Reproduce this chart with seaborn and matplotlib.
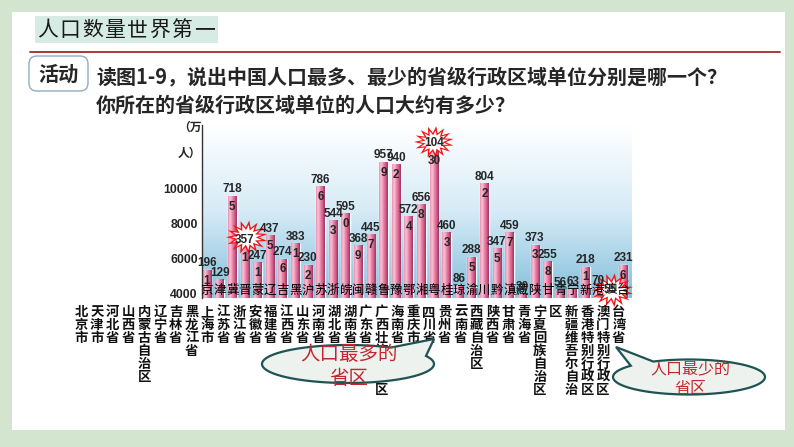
import numpy as np
import pandas as pd
import matplotlib
matplotlib.use("Agg")
import matplotlib.pyplot as plt
import seaborn as sns
from matplotlib.patches import Rectangle, FancyBboxPatch, Polygon
from matplotlib.lines import Line2D
from matplotlib.colors import LinearSegmentedColormap

# Datos (poblacion en 10 mil personas)
abrev = ["京", "津", "冀", "晋", "蒙", "辽", "吉", "黑", "沪", "苏", "浙", "皖",
         "闽", "赣", "鲁", "豫", "鄂", "湘", "粤", "桂", "琼", "渝", "川", "黔",
         "滇", "藏", "陕", "甘", "青", "宁", "新", "港", "澳", "台"]
poblacion = [1961, 1294, 7185, 3571, 2471, 4375, 2746, 3831, 2302, 7866, 5443, 5950,
             3689, 4457, 9579, 9402, 5724, 6568, 10430, 4603, 867, 2885, 8042, 3475,
             4597, 300, 3733, 2558, 563, 630, 2181, 708, 55, 2316]
# columnas de nombres tal como aparecen (el "区" de Xinjiang salta de columna)
nombres = ["北京市", "天津市", "河北省", "山西省", "内蒙古自治区", "辽宁省", "吉林省",
           "黑龙江省", "上海市", "江苏省", "浙江省", "安徽省", "福建省", "江西省",
           "山东省", "河南省", "湖北省", "湖南省", "广东省", "广西壮族自治区", "海南省",
           "重庆市", "四川省", "贵州省", "云南省", "西藏自治区", "陕西省", "甘肃省",
           "青海省", "宁夏回族自治区", "区", "新疆维吾尔自治", "香港特别行政区",
           "澳门特别行政区", "台湾省"]
ticks_y = [4000, 6000, 8000, 10000]
resaltados = ["晋", "粤", "澳"]

sns.set_theme(style="white")
plt.rcParams["font.family"] = ["Noto Sans CJK SC", "DejaVu Sans"]

W, H = 794, 447
fig = plt.figure(figsize=(W / 100, H / 100), dpi=100, facecolor="#d3e5cf")
inch = fig.dpi_scale_trans


def pt(x, y):
    # pixel (y hacia abajo) -> pulgadas
    return (x / 100, (H - y) / 100)


def ftext(x, y, s, **kw):
    return fig.text(x / W, 1 - y / H, s, **kw)


# panel blanco
fig.patches.append(Rectangle(pt(12, 430), 7.73, 4.18, transform=inch,
                             facecolor="white", edgecolor="none", zorder=-1))

# titulo
fig.patches.append(Rectangle(pt(35, 43), 1.83, 0.27, transform=inch,
                             facecolor="#d5ebe4", edgecolor="none", zorder=1))
for j, ch in enumerate("人口数量世界第一"):
    ftext(48 + 22.3 * j, 30, ch, fontsize=15, color="#1a1a1a", ha="center",
          va="center", zorder=3)
fig.add_artist(Line2D([30 / W, 780 / W], [1 - 51.5 / H] * 2, color="#a5282c", lw=1.3))

fig.patches.append(FancyBboxPatch(pt(29, 91), 0.59, 0.35, transform=inch,
                                  boxstyle="round,pad=0,rounding_size=0.08",
                                  facecolor="white", edgecolor="#8eaec0", lw=1, zorder=1))
ftext(58, 74, "活动", fontsize=14.5, weight="bold", ha="center", va="center", zorder=3)
ftext(96, 77, "读图1-9，说出中国人口最多、最少的省级行政区域单位分别是哪一个？",
      fontsize=14.4, weight="bold", va="center", zorder=3)
ftext(96, 105, "你所在的省级行政区域单位的人口大约有多少？",
      fontsize=14.4, weight="bold", va="center", zorder=3)

# grafico
ax = fig.add_axes([202 / W, 1 - 298 / H, (631 - 202) / W, (298 - 125) / H])
df = pd.DataFrame({"prov": abrev, "pop": poblacion})
sns.barplot(data=df, x="prov", y="pop", color="#e8779e", width=0.68,
            saturation=1, ax=ax, zorder=2)

bg_cmap = LinearSegmentedColormap.from_list("cielo", ["#ffffff", "#d6ebf6", "#84bfdc"])
ax.imshow(np.linspace(0, 1, 256).reshape(-1, 1), cmap=bg_cmap, extent=[0, 1, 0, 1],
          transform=ax.transAxes, aspect="auto", zorder=0)

bar_cmap = LinearSegmentedColormap.from_list(
    "rosa", ["#ee8fb1", "#f8c8d9", "#ec86aa", "#d65d8b", "#9a3361"])
grad = np.linspace(0, 1, 32).reshape(1, -1)
for p in ax.patches:
    x0, w, h = p.get_x(), p.get_width(), p.get_height()
    ax.imshow(grad, cmap=bar_cmap, extent=[x0, x0 + w, 0, h], aspect="auto",
              interpolation="bicubic", zorder=2.5)

ax.set_xlim(-0.4, 33.63)
ax.set_ylim(0, 12200)
ax.set_xlabel("")
ax.set_ylabel("")
ax.set_xticks([])

# el eje original no esta a escala: las marcas van donde las dibujo el autor
pos_ticks = [350 + (t - 4000) * 1.234 for t in ticks_y]
ax.set_yticks(pos_ticks, [str(t) for t in ticks_y])
ax.tick_params(axis="y", length=0, pad=3, labelsize=8.8)
for lab in ax.get_yticklabels():
    lab.set_fontweight("bold")
    lab.set_fontfamily("Liberation Sans")
sns.despine(ax=ax, left=False, bottom=True)
ax.spines["left"].set_color("#333333")
ax.spines["left"].set_linewidth(1)

# etiquetas de las barras (partidas en dos lineas como en el original)
for i, v in enumerate(poblacion):
    s = str(v)
    k = 3 if v >= 1000 else 2
    ax.annotate(s[:k], (i, v), xytext=(0, 5), textcoords="offset points",
                ha="center", va="center", fontsize=8.5, weight="bold",
                family="Liberation Sans", zorder=7)
    if v >= 1000:
        ax.annotate(s[k:], (i, v), xytext=(0, -7.5), textcoords="offset points",
                    ha="center", va="center", fontsize=8.5, weight="bold",
                    family="Liberation Sans", zorder=7)
    ax.text(i, 0.046, abrev[i], transform=ax.get_xaxis_transform(), ha="center",
            va="center", fontsize=9, color="black", zorder=6)

ftext(190, 127, "（万", fontsize=8.5, weight="bold", ha="center", va="center")
ftext(189, 153, "人）", fontsize=8.5, weight="bold", ha="center", va="center")


# estrellas rojas
def estrella(cx, cy, rx, ry, n=15):
    t = np.linspace(0, 2 * np.pi, 2 * n, endpoint=False) + 0.2
    r = np.where(np.arange(2 * n) % 2 == 0, 1.0, 0.58)
    return np.column_stack([cx + rx * r * np.cos(t), cy + ry * r * np.sin(t)])


ajustes = {"晋": (2, 10, 21, 17), "粤": (0, 8, 20, 16), "澳": (2, 7, 21, 17)}
for nom in resaltados:
    i = abrev.index(nom)
    dx, dy, rx, ry = ajustes[nom]
    cx, cy = ax.transData.transform((i, poblacion[i]))
    cx, cy = cx + dx, cy + dy
    for esc, col in [(1.0, "#f01616"), (0.74, "white")]:
        pts = estrella(cx, cy, rx * esc, ry * esc) / 100
        ax.add_patch(Polygon(pts, closed=True, transform=inch, facecolor=col,
                             edgecolor="none", clip_on=False, zorder=5))

# nombres verticales
for k, nm in enumerate(nombres):
    x = 81 + 15.82 * k
    for j, ch in enumerate(nm):
        ftext(x, 312 + 13 * j, ch, fontsize=9.6, weight="bold", ha="center",
              va="center", color="#111111", zorder=3)


# globos de texto
def globo(cx, cy, rx, ry, lo, hi, punta):
    t = np.radians(np.linspace(hi, lo + 360, 200))
    xs = cx + rx * np.cos(t)
    ys = cy - ry * np.sin(t)
    pts = [pt(a, b) for a, b in zip(xs, ys)] + [pt(*punta)]
    fig.patches.append(Polygon(pts, closed=True, transform=inch, facecolor="#eef2ef",
                               edgecolor="#1d5453", lw=1.6, zorder=4))


globo(348, 364, 86, 19, 25, 60, (434, 339))
ftext(349, 355, "人口最多的", fontsize=14, color="#c4262e", ha="center", va="center", zorder=5)
ftext(349, 378, "省区", fontsize=14, color="#c4262e", ha="center", va="center", zorder=5)

globo(689, 377, 76, 17.5, 118, 140, (616, 347))
ftext(690, 370, "人口最少的", fontsize=11.5, color="#c4262e", ha="center", va="center", zorder=5)
ftext(690, 388, "省区", fontsize=11.5, color="#c4262e", ha="center", va="center", zorder=5)

fig.savefig("out.png", dpi=100)
